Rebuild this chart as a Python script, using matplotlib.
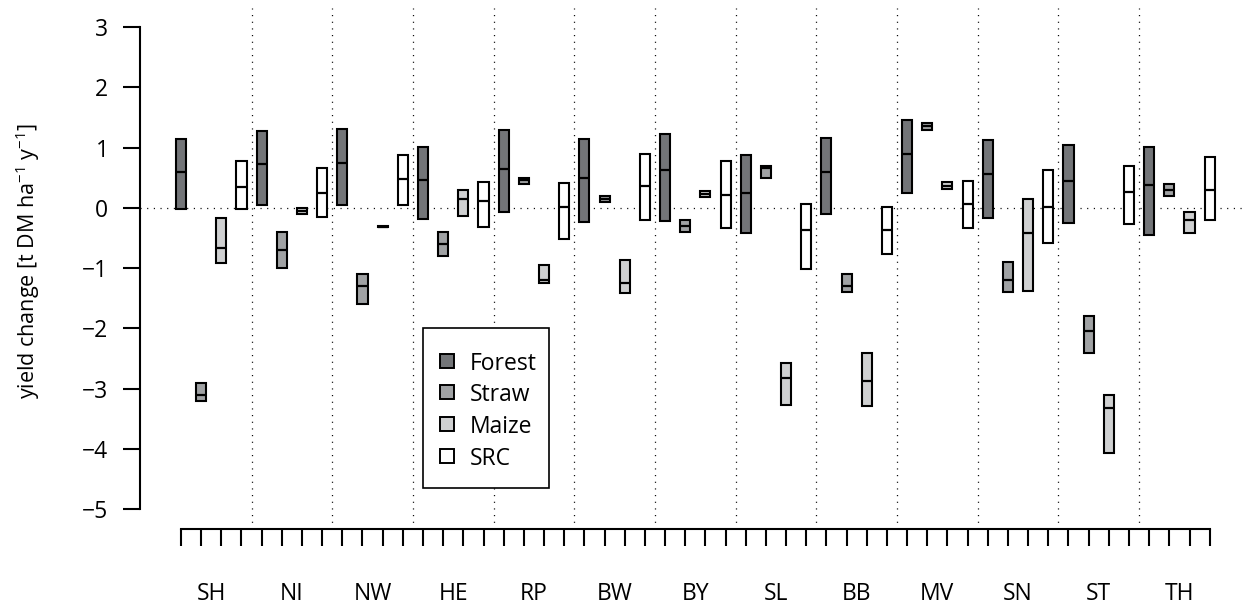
import matplotlib
matplotlib.use("Agg")
import matplotlib.pyplot as plt
from matplotlib.patches import Rectangle
from matplotlib.transforms import blended_transform_factory
import numpy as np

plt.rcParams['font.family'] = ['Open Sans', 'DejaVu Sans']
plt.rcParams['mathtext.fontset'] = 'custom'
plt.rcParams['mathtext.rm'] = 'Open Sans'
plt.rcParams['mathtext.it'] = 'Open Sans'
plt.rcParams['lines.scale_dashes'] = False

regions = ["SH", "NI", "NW", "HE", "RP", "BW", "BY", "SL", "BB", "MV", "SN", "ST", "TH"]
crops = ["Forest", "Straw", "Maize", "SRC"]
colors = {"Forest": "#737578", "Straw": "#a0a2a4", "Maize": "#cfd0d1", "SRC": "#ffffff"}

# lower, median, upper per region
forest_lo = [-0.02, 0.05, 0.04, -0.18, -0.07, -0.24, -0.21, -0.42, -0.095, 0.24, -0.16, -0.245, -0.45]
forest_md = [0.60, 0.73, 0.74, 0.47, 0.65, 0.50, 0.62, 0.25, 0.59, 0.895, 0.56, 0.45, 0.38]
forest_hi = [1.14, 1.275, 1.30, 1.015, 1.29, 1.14, 1.225, 0.87, 1.16, 1.46, 1.13, 1.05, 1.015]

straw_lo = [-3.20, -1.00, -1.59, -0.80, 0.40, 0.10, -0.40, 0.50, -1.40, 1.29, -1.40, -2.40, 0.20]
straw_md = [-3.10, -0.70, -1.295, -0.60, 0.47, 0.15, -0.30, 0.66, -1.30, 1.35, -1.20, -2.05, 0.30]
straw_hi = [-2.90, -0.40, -1.10, -0.40, 0.50, 0.20, -0.20, 0.70, -1.10, 1.40, -0.90, -1.80, 0.40]

maize_lo = [-0.91, -0.10, -0.32, -0.13, -1.245, -1.415, 0.185, -3.27, -3.29, 0.31, -1.38, -4.06, -0.42]
maize_md = [-0.665, -0.06, -0.31, 0.15, -1.20, -1.245, 0.23, -2.815, -2.88, 0.37, -0.42, -3.32, -0.195]
maize_hi = [-0.16, -0.01, -0.30, 0.30, -0.94, -0.86, 0.275, -2.57, -2.41, 0.425, 0.15, -3.10, -0.075]

src_lo = [-0.02, -0.145, 0.05, -0.32, -0.52, -0.195, -0.34, -1.02, -0.76, -0.33, -0.59, -0.27, -0.20]
src_md = [0.35, 0.25, 0.475, 0.12, 0.015, 0.37, 0.21, -0.37, -0.365, 0.06, 0.01, 0.26, 0.30]
src_hi = [0.78, 0.66, 0.88, 0.425, 0.42, 0.90, 0.77, 0.07, 0.015, 0.45, 0.62, 0.695, 0.85]

data = {
    "Forest": (forest_lo, forest_md, forest_hi),
    "Straw": (straw_lo, straw_md, straw_hi),
    "Maize": (maize_lo, maize_md, maize_hi),
    "SRC": (src_lo, src_md, src_hi),
}

yticks = [-5, -4, -3, -2, -1, 0, 1, 2, 3]

W, H = 1247, 607
fig = plt.figure(figsize=(W / 100, H / 100), dpi=100)
ax = fig.add_axes([140 / W, 1 - 528.6 / H, 1107 / W, (528.6 - 7.7) / H])

n = len(regions)
FS = 16.5
dot = (0, (0.8, 4.0))

# reference lines
ax.axhline(0, color="black", lw=0.9, linestyle=dot, zorder=1)
for k in range(1, n):
    ax.axvline(4 * k + 0.5, color="black", lw=0.9, linestyle=dot, zorder=1)

for ci, crop in enumerate(crops):
    lo, md, hi = (np.array(v) for v in data[crop])
    pos = np.arange(n) * 4 + 1 + ci
    ax.bar(pos, hi - lo, bottom=lo, width=0.5, color=colors[crop],
           edgecolor="black", linewidth=1.5, zorder=3)
    ax.hlines(md, pos - 0.25, pos + 0.25, color="black", lw=1.6, zorder=4)

ax.set_xlim(-1.03, 53.85)
ax.set_ylim(-5.32, 3.32)

for s in ["top", "right"]:
    ax.spines[s].set_visible(False)
ax.spines["left"].set_bounds(-5, 3)
ax.spines["bottom"].set_bounds(1, 4 * n)
ax.spines["left"].set_linewidth(1.5)
ax.spines["bottom"].set_linewidth(1.5)

ax.set_yticks(yticks)
ax.set_yticklabels([str(v).replace("-", "\u2212") for v in yticks], fontsize=FS)
ax.set_xticks(np.arange(1, 4 * n + 1))
ax.set_xticklabels([])
ax.tick_params(axis="both", direction="out", length=12.2, width=1.5, pad=10.5)

tr = blended_transform_factory(ax.transData, ax.transAxes)
for i, r in enumerate(regions):
    ax.text(4 * i + 2.5, -0.1256, r, transform=tr, ha="center", va="center", fontsize=FS)

fig.text(28 / W, 1 - 261 / H, r"yield change [t DM ha$^{-1}$ y$^{-1}$]",
         rotation=90, ha="center", va="center", fontsize=15.5)

# legend (manual layout)
def fx(px):
    return px / W

def fy(py):
    return 1 - py / H

fig.patches.append(Rectangle((fx(423), fy(488)), fx(549) - fx(423), fy(328) - fy(488),
                             transform=fig.transFigure, facecolor="white",
                             edgecolor="black", linewidth=1.2, zorder=5))
row_y = [360.5, 392.3, 424.1, 456.0]
for c, ry in zip(crops, row_y):
    fig.patches.append(Rectangle((fx(439.5), fy(ry + 7)), 14 / W, 14 / H,
                                 transform=fig.transFigure, facecolor=colors[c],
                                 edgecolor="black", linewidth=1.4, zorder=6))
    fig.text(fx(470), fy(ry), c, ha="left", va="center_baseline", fontsize=FS, zorder=6)

fig.savefig("out.png", dpi=100)
